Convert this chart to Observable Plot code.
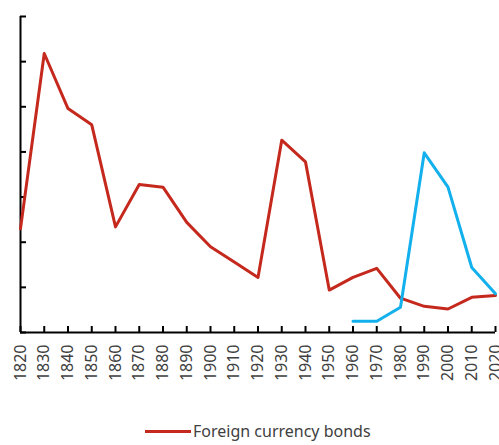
<!DOCTYPE html>
<html>
<head>
<meta charset="utf-8">
<script src="https://cdn.jsdelivr.net/npm/d3@7"></script>
<script src="https://cdn.jsdelivr.net/npm/@observablehq/plot@0.6"></script>
<style>
  html, body { margin: 0; padding: 0; background: #fff; }
  #wrap { width: 499px; height: 445px; position: relative; overflow: hidden; font-family: "Noto Sans", sans-serif; }
  #legend { position: absolute; left: 0; top: 400px; width: 499px; height: 45px; }
  #legend .swatch { position: absolute; left: 145px; top: 30px; width: 46px; height: 3px; background: #c5281c; }
  #legend .lab { position: absolute; left: 193px; top: 20px; font-size: 16px; line-height: 22px; color: #404040; white-space: nowrap; }
</style>
</head>
<body>
<div id="wrap">
  <div id="chart"></div>
  <div id="legend"><div class="swatch"></div><div class="lab">Foreign currency bonds</div></div>
</div>
<script>
const years = [1820,1830,1840,1850,1860,1870,1880,1890,1900,1910,1920,1930,1940,1950,1960,1970,1980,1990,2000,2010,2020];
const foreignValues = [11.5,30.9,24.8,23.0,11.7,16.4,16.1,12.2,9.5,7.8,6.1,21.3,18.9,4.7,6.1,7.1,3.8,2.9,2.6,3.9,4.1];
const localYears = [1960,1970,1980,1990,2000,2010,2020];
const localValues = [1.25,1.25,2.8,19.9,16.1,7.2,4.3];
const yTicks = [0,5,10,15,20,25,30,35];

const foreign = years.map((y, i) => ({year: y, value: foreignValues[i]}));
const local = localYears.map((y, i) => ({year: y, value: localValues[i]}));

const chart = Plot.plot({
  width: 499,
  height: 400,
  marginLeft: 20,
  marginRight: 4,
  marginTop: 16,
  marginBottom: 68,
  x: {domain: [1820, 2020]},
  y: {domain: [0, 35]},
  style: {fontFamily: "Noto Sans", fontSize: "16px", color: "#000", background: "#fff"},
  marks: [
    Plot.axisY({ticks: yTicks, tickSize: -6, tickFormat: () => "", strokeWidth: 2, label: null}),
    Plot.axisX({ticks: years, tickSize: -6, tickFormat: () => "", strokeWidth: 2, label: null}),
    Plot.axisX({ticks: years, tickSize: 0, tickPadding: 12, tickRotate: -90, tickFormat: d => String(d), label: null, fill: "#404040"}),
    Plot.ruleX([1820], {y1: 0, y2: 35, strokeWidth: 2}),
    Plot.ruleY([0], {strokeWidth: 2}),
    Plot.line(foreign, {x: "year", y: "value", stroke: "#c5281c", strokeWidth: 3}),
    Plot.line(local, {x: "year", y: "value", stroke: "#12b0ec", strokeWidth: 3})
  ]
});
document.getElementById("chart").appendChild(chart);
</script>
</body>
</html>
